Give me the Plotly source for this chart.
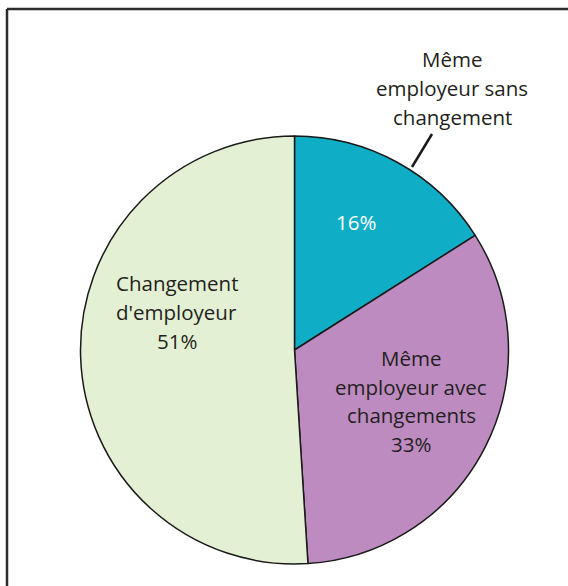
import plotly.graph_objects as go

# Data
categories = ["Même employeur sans changement", "Même employeur avec changements", "Changement d'employeur"]
values = [16, 33, 51]
colors = ["#0FAEC6", "#BD8BC0", "#E4F0D4"]

W, H = 568, 586

def px(x):
    return x / W

def py(y):
    return 1 - y / H

# pie geometry (pixels)
cx, cy, r = 294.5, 350, 214

fig = go.Figure(go.Pie(
    labels=categories,
    values=values,
    sort=False,
    direction="clockwise",
    rotation=0,
    marker=dict(colors=colors, line=dict(color="#1a1a1a", width=1.5)),
    textinfo="none",
    hoverinfo="none",
    showlegend=False,
    domain=dict(x=[px(cx - r), px(cx + r)], y=[py(cy + r), py(cy - r)]),
))

font_family = "Open Sans, Noto Sans, sans-serif"
fs = 20.5

# label blocks: lines, center x, first line y, line step, color
blocks = [
    (["Même", "employeur sans", "changement"], 452, 59, 29, "#231f20"),
    ([f"{values[0]}%"], 356, 222, 29, "#ffffff"),
    (["Même", "employeur avec", "changements", f"{values[1]}%"], 411, 358, 28.5, "#231f20"),
    (["Changement", "d'employeur", f"{values[2]}%"], 177, 283, 29, "#231f20"),
]

annotations = []
for lines, x, y0, step, col in blocks:
    for i, t in enumerate(lines):
        annotations.append(dict(
            x=px(x), y=py(y0 + i * step), xref="paper", yref="paper",
            text=t, showarrow=False, xanchor="center", yanchor="middle",
            font=dict(family=font_family, size=fs, color=col),
        ))

shapes = [
    # frame (top and left)
    dict(type="line", xref="paper", yref="paper", x0=px(7), y0=py(9), x1=1.02, y1=py(9),
         line=dict(color="#2b2b2b", width=2.5)),
    dict(type="line", xref="paper", yref="paper", x0=px(7), y0=py(9), x1=px(7), y1=-0.02,
         line=dict(color="#2b2b2b", width=2.5)),
    # leader line
    dict(type="line", xref="paper", yref="paper", x0=px(432), y0=py(134), x1=px(412), y1=py(167),
         line=dict(color="#1a1a1a", width=2.5)),
]

fig.update_layout(
    width=W, height=H,
    margin=dict(l=0, r=0, t=0, b=0),
    paper_bgcolor="white", plot_bgcolor="white",
    annotations=annotations,
    shapes=shapes,
)

fig.write_html("out.html", config={"displayModeBar": False},
               post_script="document.body.style.margin='0';document.body.style.overflow='hidden';")
